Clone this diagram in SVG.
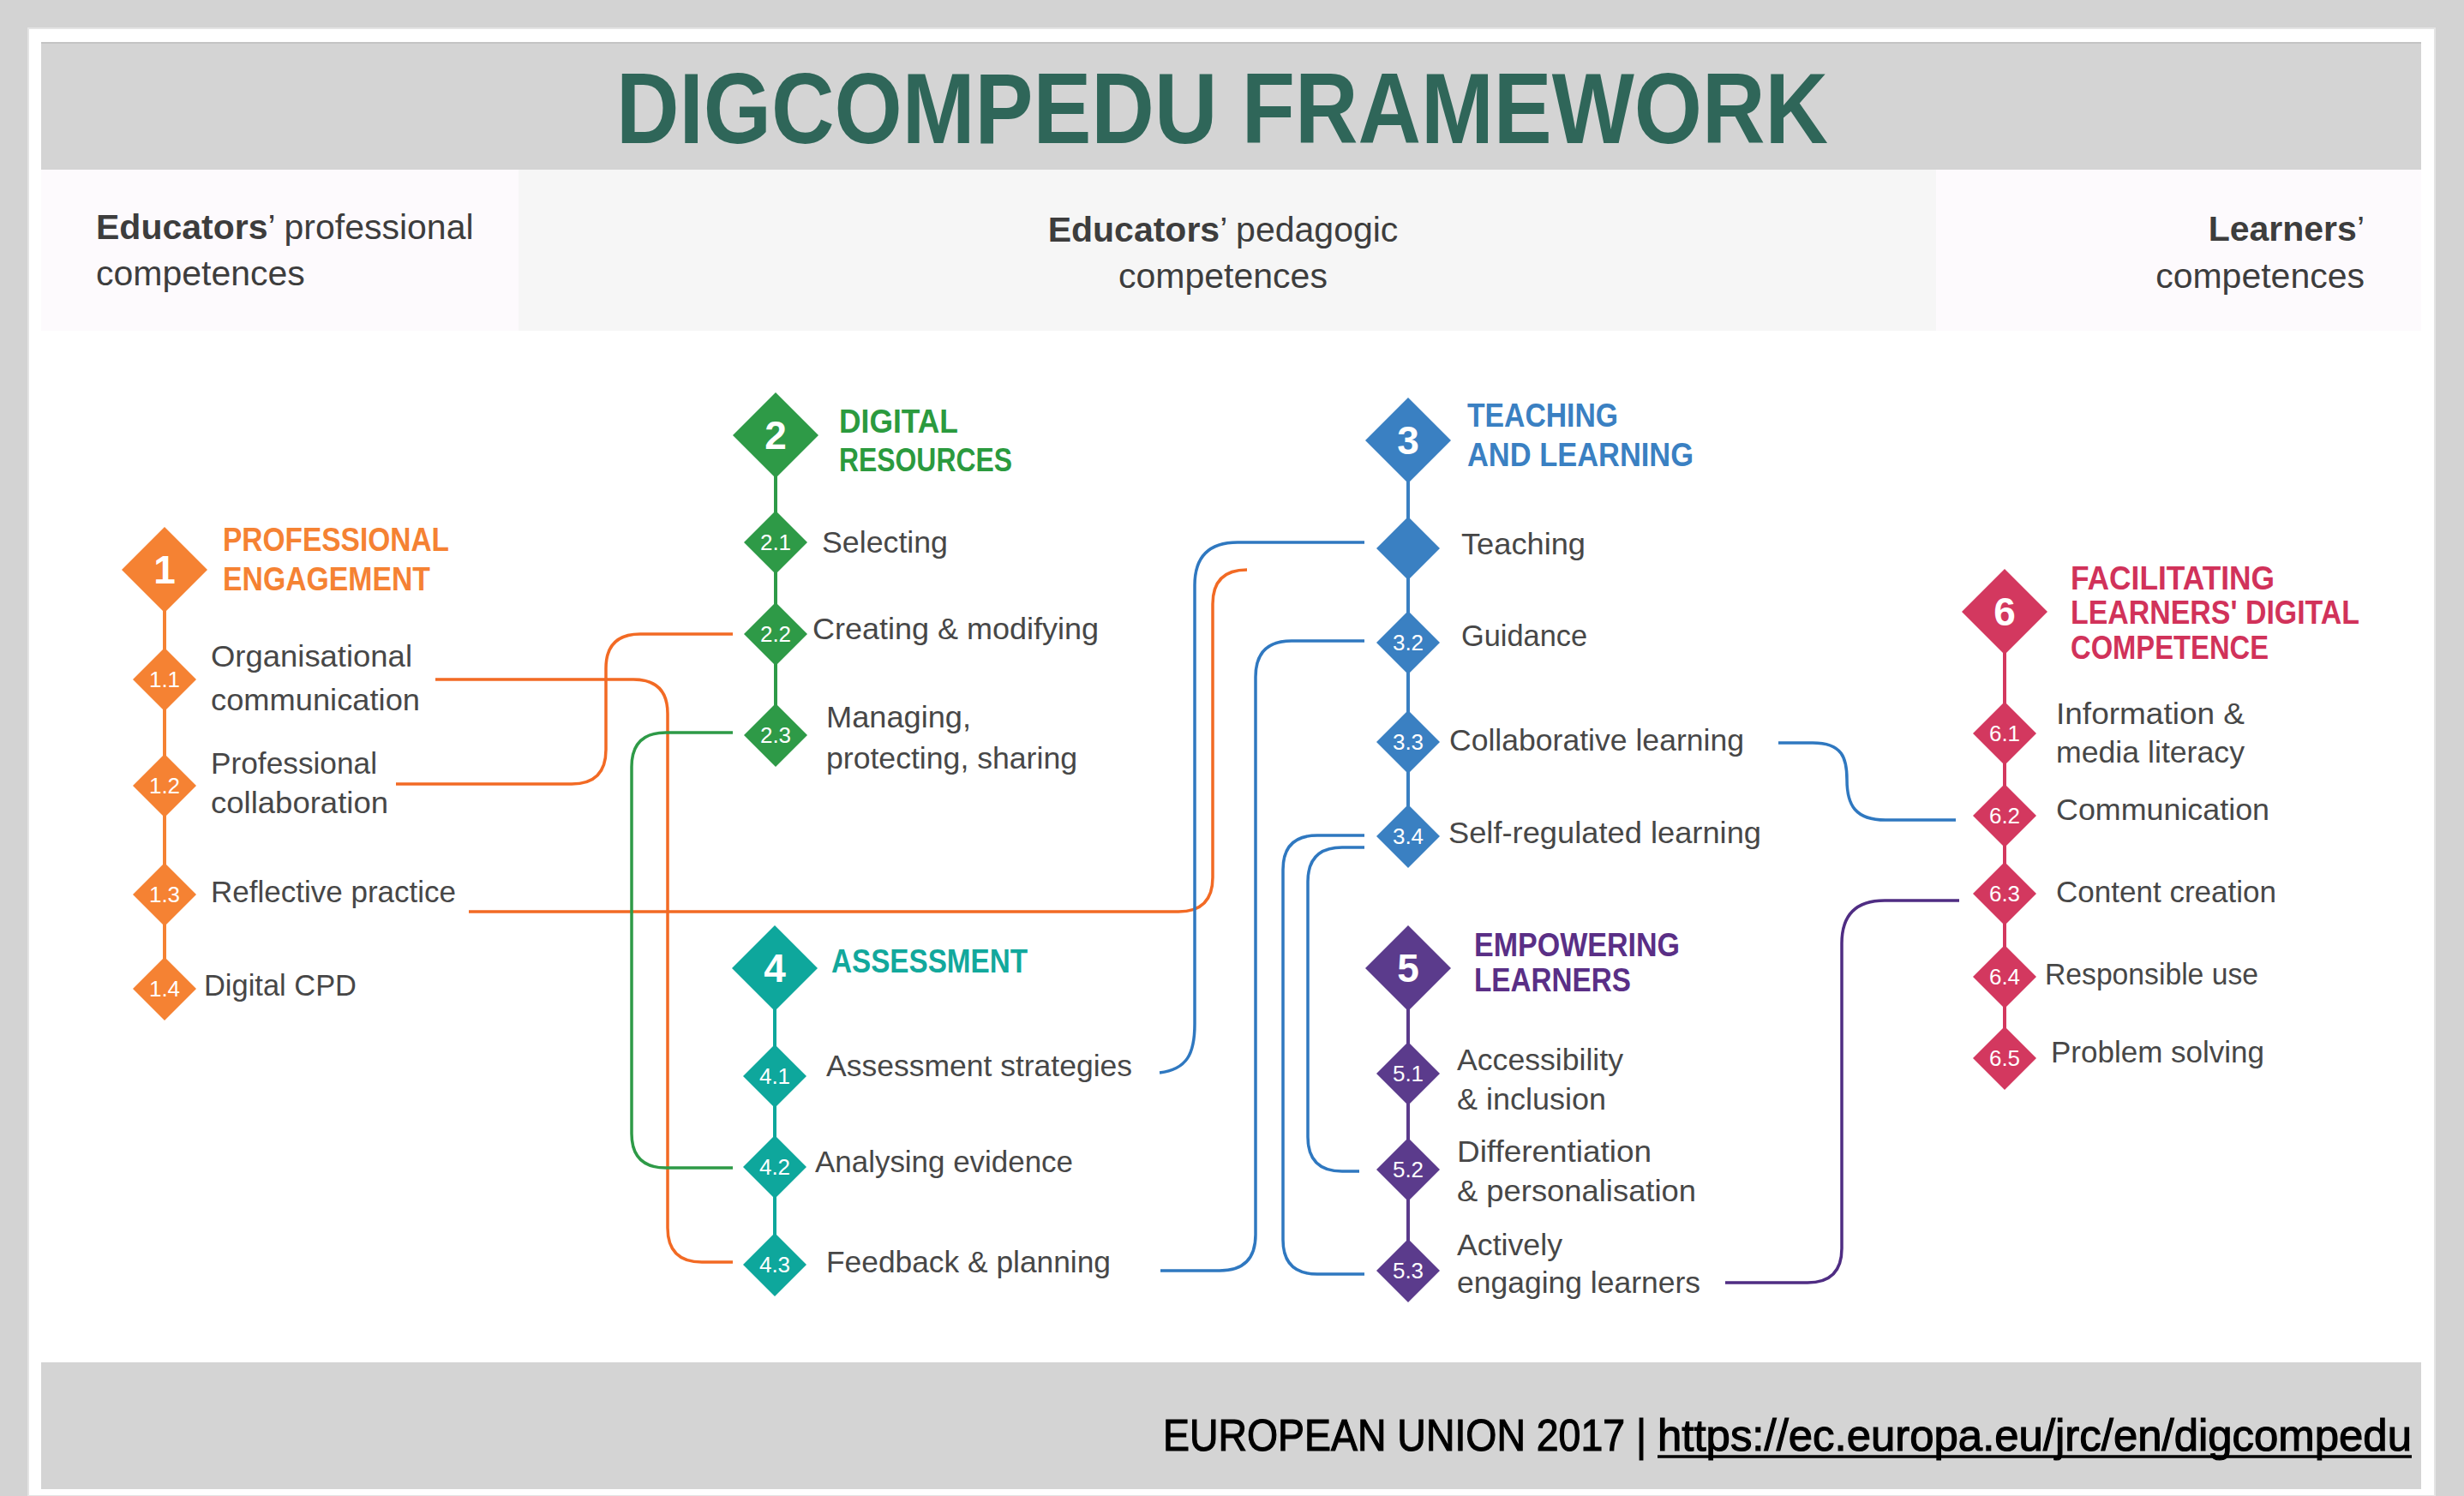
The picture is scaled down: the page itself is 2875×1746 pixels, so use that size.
<svg xmlns="http://www.w3.org/2000/svg" xmlns:xlink="http://www.w3.org/1999/xlink" width="2875" height="1746" viewBox="0 0 2875 1746">
<style>
.hdr{font-family:"Liberation Sans",Arial,sans-serif;font-size:41px;fill:#3d3d3d}
.b{font-weight:bold}
.ttl{font-family:"Liberation Sans",Arial,sans-serif;font-weight:bold;font-size:117px;fill:#2f6659}
.cat{font-family:"Liberation Sans",Arial,sans-serif;font-weight:bold;font-size:38px}
.it{font-family:"Liberation Sans",Arial,sans-serif;font-size:35px;fill:#474747}
.num{font-family:"Liberation Sans",Arial,sans-serif;font-size:26px;fill:#ffffff;text-anchor:middle}
.big{font-family:"Liberation Sans",Arial,sans-serif;font-weight:bold;font-size:46px;fill:#ffffff;text-anchor:middle}
.spine{stroke-width:4;fill:none}
.con{stroke-width:3.5;fill:none;stroke-linecap:butt}
.foot{font-family:"Liberation Sans",Arial,sans-serif;font-size:52px;fill:#000000;stroke:#000000;stroke-width:1.2}
</style>
<defs>
<path id="sd" d="M0,-37 L37,0 0,37 -37,0Z"/>
<path id="bd" d="M0,-50 L50,0 0,50 -50,0Z"/>
</defs>
<rect x="0" y="0" width="2875" height="1746" fill="#d3d3d3"/>
<rect x="33" y="33" width="2808" height="1713" fill="#ffffff" stroke="#e4e4e4" stroke-width="2"/>
<g id="title-band">
<rect x="48" y="49" width="2777" height="149" fill="#d4d4d4"/>
<line x1="48" y1="50" x2="2825" y2="50" stroke="#c4c4c4" stroke-width="2"/>
<text class="ttl" x="1426" y="167" text-anchor="middle" textLength="1414" lengthAdjust="spacingAndGlyphs">DIGCOMPEDU FRAMEWORK</text>
</g>
<g id="header-row">
<rect x="48" y="198" width="557" height="188" fill="#fdfafd"/>
<rect x="605" y="198" width="1654" height="188" fill="#f6f6f6"/>
<rect x="2259" y="198" width="566" height="188" fill="#fdfafd"/>
<text class="hdr" x="112" y="279"><tspan class="b">Educators</tspan>’ professional</text>
<text class="hdr" x="112" y="333">competences</text>
<text class="hdr" x="1427" y="282" text-anchor="middle"><tspan class="b">Educators</tspan>’ pedagogic</text>
<text class="hdr" x="1427" y="336" text-anchor="middle">competences</text>
<text class="hdr" x="2759" y="281" text-anchor="end"><tspan class="b">Learners</tspan>’</text>
<text class="hdr" x="2759" y="336" text-anchor="end">competences</text>
</g>
<g id="connectors">
<path class="con" stroke="#f26a24" d="M508,793 H739 Q779,793 779,833 V1433 Q779,1473 819,1473 H855"/>
<path class="con" stroke="#f26a24" d="M462,915 H667 Q707,915 707,875 V780 Q707,740 747,740 H855"/>
<path class="con" stroke="#f26a24" d="M547,1064 H1375 Q1415,1064 1415,1024 V705 Q1415,665 1455,665"/>
<path class="con" stroke="#2e9a47" d="M855,855 H777 Q737,855 737,895 V1323 Q737,1363 777,1363 H855"/>
<path class="con" stroke="#2f78c0" d="M1353,1252 C1385,1248 1394,1230 1394,1195 V683 Q1394,633 1444,633 H1592"/>
<path class="con" stroke="#2f78c0" d="M1354,1483 H1423 Q1465,1483 1465,1441 V790 Q1465,748 1507,748 H1592"/>
<path class="con" stroke="#2f78c0" d="M1592,975 H1537 Q1497,975 1497,1015 V1447 Q1497,1487 1537,1487 H1592"/>
<path class="con" stroke="#2f78c0" d="M1592,989 H1566 Q1526,989 1526,1029 V1327 Q1526,1367 1566,1367 H1586"/>
<path class="con" stroke="#2f78c0" d="M2075,867 H2115 C2150,867 2155,885 2155,910 C2155,940 2165,957 2200,957 H2282"/>
<path class="con" stroke="#4f2d83" d="M2013,1497 H2109 Q2149,1497 2149,1457 V1101 Q2149,1051 2199,1051 H2286"/>
</g>
<g id="area1" fill="#f58233">
<line class="spine" stroke="#f58233" x1="192" y1="665" x2="192" y2="1154"/>
<g id="n1"><use xlink:href="#bd" x="192" y="665"/><text class="big" x="192" y="681">1</text></g>
<text class="cat" fill="#f58233" x="260" y="643" textLength="264" lengthAdjust="spacingAndGlyphs">PROFESSIONAL</text>
<text class="cat" fill="#f58233" x="260" y="689" textLength="242" lengthAdjust="spacingAndGlyphs">ENGAGEMENT</text>
<g id="n1-1"><use xlink:href="#sd" x="192" y="793"/><text class="num" x="192" y="802">1.1</text>
<text class="it" x="246" y="778" textLength="235" lengthAdjust="spacingAndGlyphs">Organisational</text>
<text class="it" x="246" y="829" textLength="244" lengthAdjust="spacingAndGlyphs">communication</text></g>
<g id="n1-2"><use xlink:href="#sd" x="192" y="917"/><text class="num" x="192" y="926">1.2</text>
<text class="it" x="246" y="903" textLength="194" lengthAdjust="spacingAndGlyphs">Professional</text>
<text class="it" x="246" y="949" textLength="207" lengthAdjust="spacingAndGlyphs">collaboration</text></g>
<g id="n1-3"><use xlink:href="#sd" x="192" y="1044"/><text class="num" x="192" y="1053">1.3</text>
<text class="it" x="246" y="1053" textLength="286" lengthAdjust="spacingAndGlyphs">Reflective practice</text></g>
<g id="n1-4"><use xlink:href="#sd" x="192" y="1154"/><text class="num" x="192" y="1163">1.4</text>
<text class="it" x="238" y="1162" textLength="178" lengthAdjust="spacingAndGlyphs">Digital CPD</text></g>
</g>
<g id="area2" fill="#2e9a47">
<line class="spine" stroke="#2e9a47" x1="905" y1="508" x2="905" y2="858"/>
<g id="n2"><use xlink:href="#bd" x="905" y="508"/><text class="big" x="905" y="524">2</text></g>
<text class="cat" fill="#2b9a3e" x="979" y="505" textLength="139" lengthAdjust="spacingAndGlyphs">DIGITAL</text>
<text class="cat" fill="#2b9a3e" x="979" y="550" textLength="202" lengthAdjust="spacingAndGlyphs">RESOURCES</text>
<g id="n2-1"><use xlink:href="#sd" x="905" y="633"/><text class="num" x="905" y="642">2.1</text>
<text class="it" x="959" y="645" textLength="147" lengthAdjust="spacingAndGlyphs">Selecting</text></g>
<g id="n2-2"><use xlink:href="#sd" x="905" y="740"/><text class="num" x="905" y="749">2.2</text>
<text class="it" x="948" y="746" textLength="334" lengthAdjust="spacingAndGlyphs">Creating &amp; modifying</text></g>
<g id="n2-3"><use xlink:href="#sd" x="905" y="858"/><text class="num" x="905" y="867">2.3</text>
<text class="it" x="964" y="849" textLength="169" lengthAdjust="spacingAndGlyphs">Managing,</text>
<text class="it" x="964" y="897" textLength="293" lengthAdjust="spacingAndGlyphs">protecting, sharing</text></g>
</g>
<g id="area3" fill="#3a80c2">
<line class="spine" stroke="#3a80c2" x1="1643" y1="514" x2="1643" y2="976"/>
<g id="n3"><use xlink:href="#bd" x="1643" y="514"/><text class="big" x="1643" y="530">3</text></g>
<text class="cat" fill="#3a80c2" x="1712" y="498" textLength="176" lengthAdjust="spacingAndGlyphs">TEACHING</text>
<text class="cat" fill="#3a80c2" x="1712" y="544" textLength="264" lengthAdjust="spacingAndGlyphs">AND LEARNING</text>
<g id="n3-1"><use xlink:href="#sd" x="1643" y="640"/>
<text class="it" x="1705" y="647" textLength="145" lengthAdjust="spacingAndGlyphs">Teaching</text></g>
<g id="n3-2"><use xlink:href="#sd" x="1643" y="750"/><text class="num" x="1643" y="759">3.2</text>
<text class="it" x="1705" y="754" textLength="147" lengthAdjust="spacingAndGlyphs">Guidance</text></g>
<g id="n3-3"><use xlink:href="#sd" x="1643" y="866"/><text class="num" x="1643" y="875">3.3</text>
<text class="it" x="1691" y="876" textLength="344" lengthAdjust="spacingAndGlyphs">Collaborative learning</text></g>
<g id="n3-4"><use xlink:href="#sd" x="1643" y="976"/><text class="num" x="1643" y="985">3.4</text>
<text class="it" x="1690" y="984" textLength="365" lengthAdjust="spacingAndGlyphs">Self-regulated learning</text></g>
</g>
<g id="area4" fill="#0ea79c">
<line class="spine" stroke="#0ea79c" x1="904" y1="1130" x2="904" y2="1476"/>
<g id="n4"><use xlink:href="#bd" x="904" y="1130"/><text class="big" x="904" y="1146">4</text></g>
<text class="cat" fill="#12a89c" x="970" y="1135" textLength="229" lengthAdjust="spacingAndGlyphs">ASSESSMENT</text>
<g id="n4-1"><use xlink:href="#sd" x="904" y="1256"/><text class="num" x="904" y="1265">4.1</text>
<text class="it" x="964" y="1256" textLength="357" lengthAdjust="spacingAndGlyphs">Assessment strategies</text></g>
<g id="n4-2"><use xlink:href="#sd" x="904" y="1362"/><text class="num" x="904" y="1371">4.2</text>
<text class="it" x="951" y="1368" textLength="301" lengthAdjust="spacingAndGlyphs">Analysing evidence</text></g>
<g id="n4-3"><use xlink:href="#sd" x="904" y="1476"/><text class="num" x="904" y="1485">4.3</text>
<text class="it" x="964" y="1485" textLength="332" lengthAdjust="spacingAndGlyphs">Feedback &amp; planning</text></g>
</g>
<g id="area5" fill="#5b3b8c">
<line class="spine" stroke="#5b3b8c" x1="1643" y1="1130" x2="1643" y2="1483"/>
<g id="n5"><use xlink:href="#bd" x="1643" y="1130"/><text class="big" x="1643" y="1146">5</text></g>
<text class="cat" fill="#5a2f86" x="1720" y="1116" textLength="240" lengthAdjust="spacingAndGlyphs">EMPOWERING</text>
<text class="cat" fill="#5a2f86" x="1720" y="1157" textLength="183" lengthAdjust="spacingAndGlyphs">LEARNERS</text>
<g id="n5-1"><use xlink:href="#sd" x="1643" y="1253"/><text class="num" x="1643" y="1262">5.1</text>
<text class="it" x="1700" y="1249" textLength="194" lengthAdjust="spacingAndGlyphs">Accessibility</text>
<text class="it" x="1700" y="1295" textLength="174" lengthAdjust="spacingAndGlyphs">&amp; inclusion</text></g>
<g id="n5-2"><use xlink:href="#sd" x="1643" y="1365"/><text class="num" x="1643" y="1374">5.2</text>
<text class="it" x="1700" y="1356" textLength="227" lengthAdjust="spacingAndGlyphs">Differentiation</text>
<text class="it" x="1700" y="1402" textLength="279" lengthAdjust="spacingAndGlyphs">&amp; personalisation</text></g>
<g id="n5-3"><use xlink:href="#sd" x="1643" y="1483"/><text class="num" x="1643" y="1492">5.3</text>
<text class="it" x="1700" y="1465" textLength="123" lengthAdjust="spacingAndGlyphs">Actively</text>
<text class="it" x="1700" y="1509" textLength="284" lengthAdjust="spacingAndGlyphs">engaging learners</text></g>
</g>
<g id="area6" fill="#d3385f">
<line class="spine" stroke="#d3385f" x1="2339" y1="714" x2="2339" y2="1235"/>
<g id="n6"><use xlink:href="#bd" x="2339" y="714"/><text class="big" x="2339" y="730">6</text></g>
<text class="cat" fill="#d1325a" x="2416" y="688" textLength="238" lengthAdjust="spacingAndGlyphs">FACILITATING</text>
<text class="cat" fill="#d1325a" x="2416" y="728" textLength="337" lengthAdjust="spacingAndGlyphs">LEARNERS' DIGITAL</text>
<text class="cat" fill="#d1325a" x="2416" y="769" textLength="231" lengthAdjust="spacingAndGlyphs">COMPETENCE</text>
<g id="n6-1"><use xlink:href="#sd" x="2339" y="856"/><text class="num" x="2339" y="865">6.1</text>
<text class="it" x="2399" y="845" textLength="220" lengthAdjust="spacingAndGlyphs">Information &amp;</text>
<text class="it" x="2399" y="890" textLength="220" lengthAdjust="spacingAndGlyphs">media literacy</text></g>
<g id="n6-2"><use xlink:href="#sd" x="2339" y="952"/><text class="num" x="2339" y="961">6.2</text>
<text class="it" x="2399" y="957" textLength="249" lengthAdjust="spacingAndGlyphs">Communication</text></g>
<g id="n6-3"><use xlink:href="#sd" x="2339" y="1043"/><text class="num" x="2339" y="1052">6.3</text>
<text class="it" x="2399" y="1053" textLength="257" lengthAdjust="spacingAndGlyphs">Content creation</text></g>
<g id="n6-4"><use xlink:href="#sd" x="2339" y="1140"/><text class="num" x="2339" y="1149">6.4</text>
<text class="it" x="2386" y="1149" textLength="249" lengthAdjust="spacingAndGlyphs">Responsible use</text></g>
<g id="n6-5"><use xlink:href="#sd" x="2339" y="1235"/><text class="num" x="2339" y="1244">6.5</text>
<text class="it" x="2393" y="1240" textLength="249" lengthAdjust="spacingAndGlyphs">Problem solving</text></g>
</g>
<g id="footer">
<rect x="48" y="1590" width="2777" height="148" fill="#d4d4d4"/>
<text class="foot" x="1357" y="1693" textLength="564" lengthAdjust="spacingAndGlyphs">EUROPEAN UNION 2017 |</text>
<text class="foot" x="1934" y="1693" textLength="880" lengthAdjust="spacingAndGlyphs">https://ec.europa.eu/jrc/en/digcompedu</text>
<line x1="1934" y1="1700" x2="2814" y2="1700" stroke="#000000" stroke-width="3.5"/>
</g>
</svg>
